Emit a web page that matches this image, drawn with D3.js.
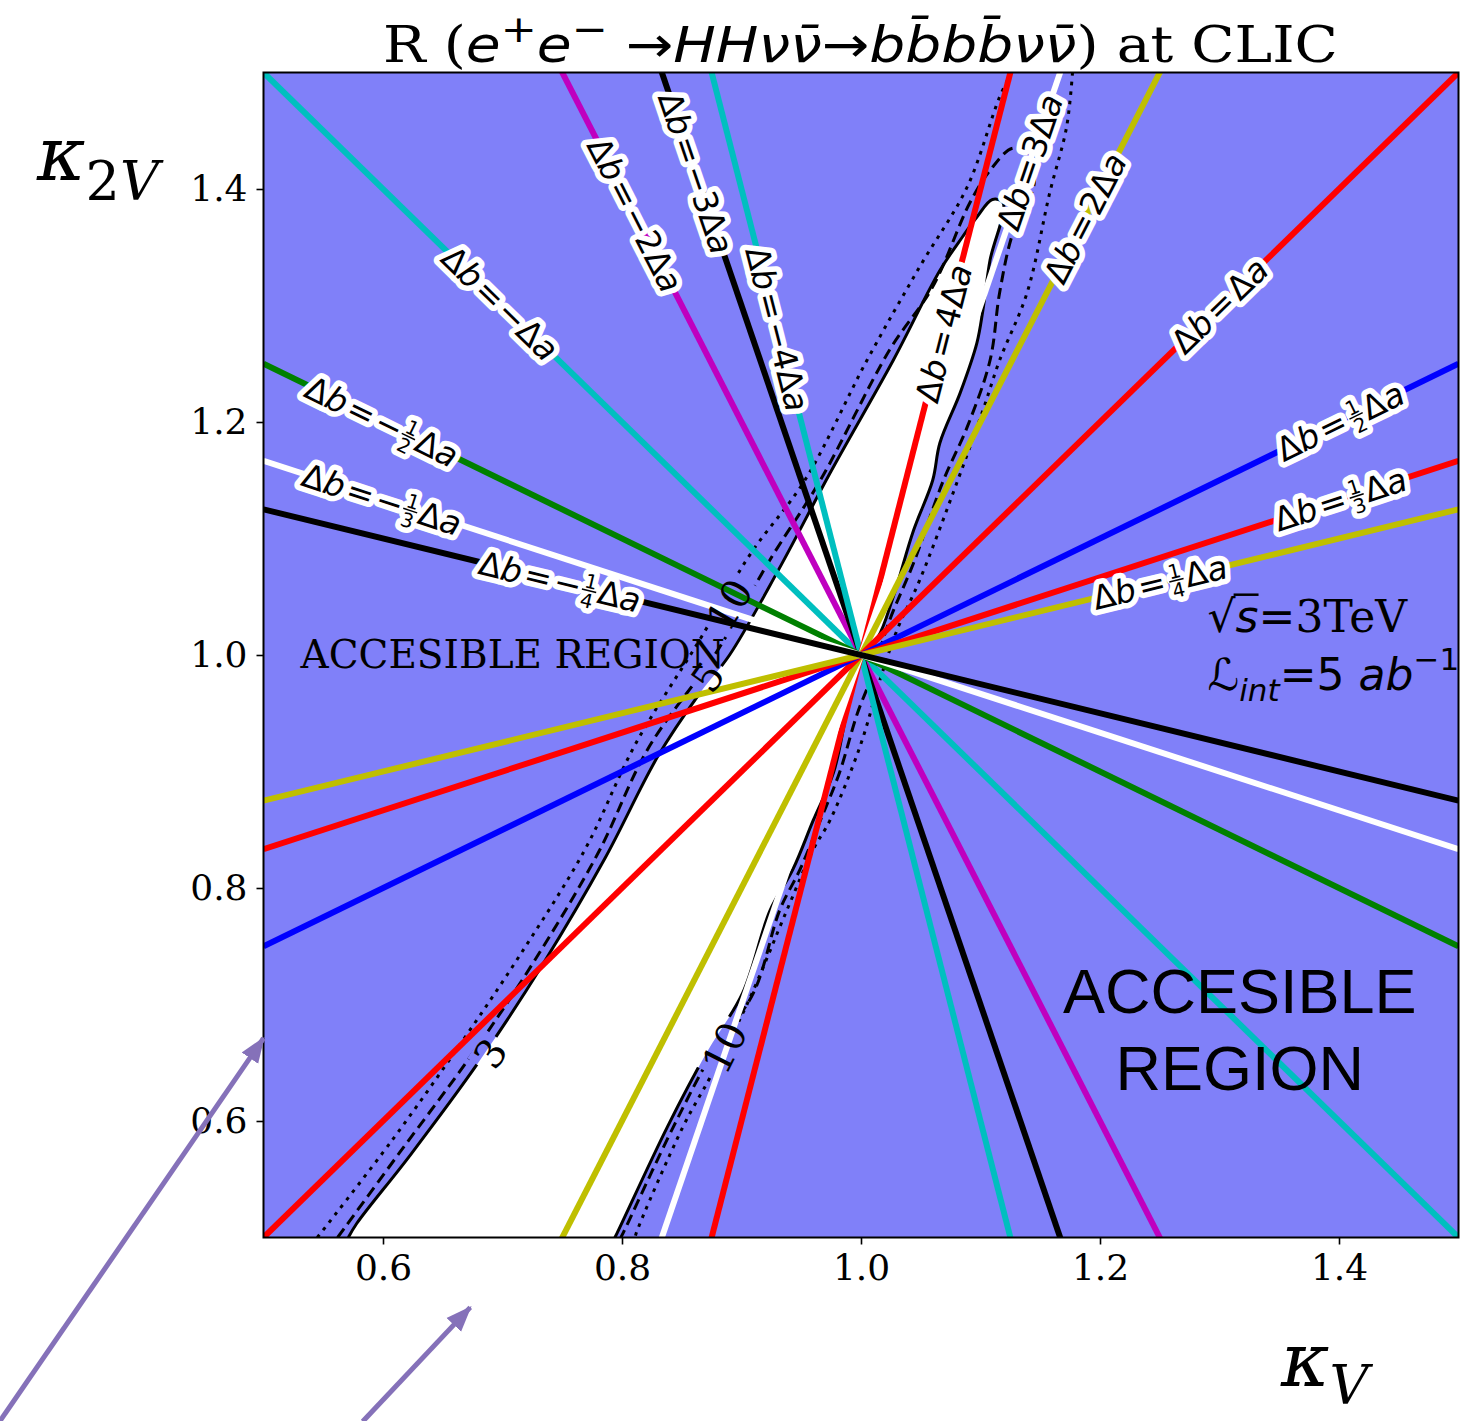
<!DOCTYPE html>
<html>
<head>
<meta charset="utf-8">
<script src="https://cdn.jsdelivr.net/npm/d3@7"></script>
<style>
  body { margin: 0; background: #fff; }
  svg { display: block; }
</style>
</head>
<body>
<div id="chart"></div>
<script>
/** Data. */
const X_TICKS = [0.6, 0.8, 1.0, 1.2, 1.4];
const Y_TICKS = [0.6, 0.8, 1.0, 1.2, 1.4];

// Lines through the SM point: Δb = k Δa
const SLOPES = [-1, -2, -3, -4, 4, 3, 2, 1, 1/2, 1/3, 1/4, -1/2, -1/3, -1/4];
const LABEL_PREFIX = ["−", "−2", "−3", "−4", "4", "3", "2", "", "", "", "", "−", "−", "−"];
const LABEL_DEN = [null, null, null, null, null, null, null, null, "2", "3", "4", "2", "3", "4"];
const LABEL_KV = [0.698, 0.811, 0.862, 0.930, 1.069, 1.141, 1.1875, 1.30, 1.401, 1.401, 1.25, 0.599, 0.599, 0.748];

// Contours of R (κV, κ2V)
const CONTOUR_3 = [
  [0.571, 0.500], [0.578, 0.512], [0.623, 0.571], [0.681, 0.652], [0.734, 0.735], [0.786, 0.826],
  [0.830, 0.913], [0.865, 0.967], [0.890, 1.000], [0.932, 1.075], [0.974, 1.156], [1.027, 1.253],
  [1.066, 1.330], [1.085, 1.359], [1.097, 1.376], [1.110, 1.391], [1.119, 1.388], [1.108, 1.339],
  [1.102, 1.296], [1.097, 1.268], [1.083, 1.225], [1.066, 1.182], [1.060, 1.150], [1.044, 1.107],
  [1.027, 1.050], [1.014, 1.015], [1.000, 1.000], [0.988, 0.950], [0.977, 0.899], [0.960, 0.858],
  [0.943, 0.816], [0.924, 0.781], [0.901, 0.710], [0.871, 0.659], [0.838, 0.595], [0.796, 0.504],
  [0.794, 0.500]
];
const CONTOUR_5 = [
  [0.562, 0.500], [0.614, 0.573], [0.675, 0.658], [0.727, 0.738], [0.780, 0.830], [0.822, 0.920],
  [0.880, 1.004], [0.924, 1.082], [0.966, 1.150], [1.024, 1.262], [1.060, 1.316], [1.091, 1.388],
  [1.108, 1.416], [1.127, 1.435], [1.141, 1.429], [1.145, 1.405], [1.127, 1.362], [1.116, 1.311],
  [1.108, 1.253], [1.089, 1.196], [1.069, 1.150], [1.044, 1.079], [1.024, 1.030], [1.008, 0.979],
  [0.997, 0.950], [0.982, 0.899], [0.966, 0.858], [0.949, 0.816], [0.932, 0.781], [0.910, 0.710],
  [0.876, 0.659], [0.843, 0.595], [0.801, 0.504], [0.799, 0.500]
];
const CONTOUR_10_LEFT = [
  [0.545, 0.500], [0.608, 0.584], [0.664, 0.665], [0.715, 0.743], [0.769, 0.833], [0.811, 0.923],
  [0.865, 1.013], [0.907, 1.086], [0.953, 1.150], [1.005, 1.253], [1.049, 1.333], [1.089, 1.402],
  [1.116, 1.479], [1.126, 1.500]
];
const CONTOUR_10_RIGHT = [
  [1.177, 1.500], [1.172, 1.453], [1.158, 1.397], [1.139, 1.311], [1.116, 1.253], [1.102, 1.210],
  [1.081, 1.150], [1.049, 1.064], [1.030, 1.021], [1.016, 0.979], [0.999, 0.921], [0.974, 0.858],
  [0.960, 0.833], [0.938, 0.781], [0.905, 0.701], [0.874, 0.638], [0.851, 0.595], [0.812, 0.504],
  [0.811, 0.500]
];
const CONTOUR_LABELS = ["3", "5", "10", "10"];
const CONTOUR_LABEL_AT = [[0.690, 0.658], [0.872, 0.981], [0.890, 1.043], [0.886, 0.663]];

// Annotation arrows, from -> to, in axis units
const ARROWS = [[[0.2795, 0.3425], [0.500, 0.671]], [[0.583, 0.342], [0.673, 0.440]]];

/** Styles and layout. */
const WIDTH = 1461;
const HEIGHT = 1421;
const PLOT = {left: 263.5, top: 72.5, right: 1458.5, bottom: 1237.5};
const BG_BLUE = "#8080f9";
const SLOPE_COLORS = ["#00bfbf", "#bf00bf", "#000000", "#00bfbf", "#ff0000", "#ffffff", "#bfbf00",
  "#ff0000", "#0000ff", "#ff0000", "#bfbf00", "#008000", "#ffffff", "#000000"];
const ARROW_COLOR = "#8571b9";
const SERIF = "'DejaVu Serif', serif";
const SANS = "'DejaVu Sans', sans-serif";

const x = d3.scaleLinear().domain([0.5, 1.5]).range([PLOT.left, PLOT.right]);
const y = d3.scaleLinear().domain([0.5, 1.5]).range([PLOT.bottom, PLOT.top]);

const curveLine = d3.line()
    .x(d => x(d[0]))
    .y(d => y(d[1]))
    .curve(d3.curveCatmullRom.alpha(0.5));
const straightLine = d3.line()
    .x(d => x(d[0]))
    .y(d => y(d[1]));

const svg = d3.select("#chart").append("svg")
    .attr("width", WIDTH)
    .attr("height", HEIGHT);
const defs = svg.append("defs");

defs.append("clipPath").attr("id", "plotclip")
  .append("rect")
    .attr("x", PLOT.left).attr("y", PLOT.top)
    .attr("width", PLOT.right - PLOT.left).attr("height", PLOT.bottom - PLOT.top);

defs.append("marker")
    .attr("id", "arrowhead")
    .attr("markerUnits", "userSpaceOnUse")
    .attr("viewBox", "0 0 26 22")
    .attr("markerWidth", 26).attr("markerHeight", 22)
    .attr("refX", 24).attr("refY", 11)
    .attr("orient", "auto")
  .append("path")
    .attr("d", "M0,1 L26,11 L0,21 Z")
    .attr("fill", ARROW_COLOR);

const plot = svg.append("g").attr("clip-path", "url(#plotclip)");

// background and the white (R < 3) region
plot.append("rect")
    .attr("x", PLOT.left).attr("y", PLOT.top)
    .attr("width", PLOT.right - PLOT.left).attr("height", PLOT.bottom - PLOT.top)
    .attr("fill", BG_BLUE);
plot.append("path")
    .attr("d", curveLine(CONTOUR_3) + "Z")
    .attr("fill", "#fff");

// mask that cuts the contour lines under their labels
const CL_FONT = 40;
const mask = defs.append("mask").attr("id", "cmask").attr("maskUnits", "userSpaceOnUse")
    .attr("x", 0).attr("y", 0).attr("width", WIDTH).attr("height", HEIGHT);
mask.append("rect").attr("width", WIDTH).attr("height", HEIGHT).attr("fill", "#fff");

function contourAngle(path, at) {
  // direction of the nearest segment of a contour, in screen degrees
  let best = 0, bd = Infinity;
  for (let i = 0; i < path.length - 1; i++) {
    const mx = (path[i][0] + path[i + 1][0]) / 2, my = (path[i][1] + path[i + 1][1]) / 2;
    const dd = (mx - at[0]) ** 2 + (my - at[1]) ** 2;
    if (dd < bd) { bd = dd; best = i; }
  }
  const a = path[best], b = path[best + 1];
  let ang = Math.atan2(y(b[1]) - y(a[1]), x(b[0]) - x(a[0])) * 180 / Math.PI;
  if (ang > 90) ang -= 180;
  if (ang < -90) ang += 180;
  return ang;
}
const LABEL_PATHS = [CONTOUR_3, CONTOUR_5, CONTOUR_10_LEFT, CONTOUR_10_RIGHT];
const clAngles = CONTOUR_LABELS.map((t, i) => contourAngle(LABEL_PATHS[i], CONTOUR_LABEL_AT[i]));
CONTOUR_LABELS.forEach((t, i) => {
  const w = t.length * CL_FONT * 0.64 + 8;
  mask.append("rect")
      .attr("x", -w / 2).attr("y", -CL_FONT * 0.42)
      .attr("width", w).attr("height", CL_FONT * 0.84)
      .attr("fill", "#000")
      .attr("transform", `translate(${x(CONTOUR_LABEL_AT[i][0])},${y(CONTOUR_LABEL_AT[i][1])}) rotate(${clAngles[i]})`);
});

const contours = plot.append("g")
    .attr("mask", "url(#cmask)")
    .attr("fill", "none")
    .attr("stroke", "#000")
    .attr("stroke-width", 3);
contours.append("path").attr("d", curveLine(CONTOUR_3));
contours.append("path").attr("d", curveLine(CONTOUR_5)).attr("stroke-dasharray", "11,6");
contours.append("path").attr("d", curveLine(CONTOUR_10_LEFT)).attr("stroke-dasharray", "3.5,6");
contours.append("path").attr("d", curveLine(CONTOUR_10_RIGHT)).attr("stroke-dasharray", "3.5,6");

// straight lines Δb = k Δa
plot.append("g").selectAll("path")
  .data(SLOPES)
  .join("path")
    .attr("d", k => straightLine([[0.5, 1 - 0.5 * k], [1.5, 1 + 0.5 * k]]))
    .attr("stroke", (k, i) => SLOPE_COLORS[i])
    .attr("stroke-width", 6)
    .attr("fill", "none");

// contour labels
CONTOUR_LABELS.forEach((t, i) => {
  plot.append("text")
      .attr("transform", `translate(${x(CONTOUR_LABEL_AT[i][0])},${y(CONTOUR_LABEL_AT[i][1])}) rotate(${clAngles[i]})`)
      .attr("text-anchor", "middle")
      .attr("dominant-baseline", "central")
      .style("font-family", SERIF)
      .style("font-size", CL_FONT + "px")
      .text(t);
});

// line labels with white halo
function slopeLabel(parent, prefix, den) {
  const fs = 33;
  const small = fs * 0.6;
  const base = 0.36 * fs;
  const layer = parent.append("g")
      .style("font-family", SANS)
      .attr("fill", "#000");
  let cx = 0;
  const put = (t, italic, gap) => {
    cx += gap || 0;
    const el = layer.append("text")
        .attr("x", cx).attr("y", base)
        .style("font-size", fs + "px")
        .style("font-style", italic ? "italic" : "normal")
        .text(t);
    cx += el.node().getComputedTextLength() + (gap || 0);
  };
  put("Δ"); put("b", true); put("=", false, 3);
  if (prefix) put(prefix, false, 0);
  if (den) {
    const w = small * 0.64 + 4;
    const barY = base - 0.3 * fs;
    layer.append("text").attr("x", cx + w / 2).attr("y", barY - 0.07 * fs)
        .attr("text-anchor", "middle").style("font-size", small + "px").text("1");
    layer.append("text").attr("x", cx + w / 2).attr("y", barY + 0.08 * fs + 0.44 * fs)
        .attr("text-anchor", "middle").style("font-size", small + "px").text(den);
    layer.append("line").attr("x1", cx + 1).attr("x2", cx + w - 1)
        .attr("y1", barY).attr("y2", barY)
        .attr("stroke", "#000").attr("stroke-width", 1.5);
    cx += w + 1;
  }
  put("Δ"); put("a", true);

  const halo = layer.node().cloneNode(true);
  parent.node().insertBefore(halo, layer.node());
  d3.select(halo)
      .attr("fill", "#fff")
      .attr("stroke", "#fff")
      .attr("stroke-width", 11)
      .attr("stroke-linejoin", "round");
  d3.select(halo).selectAll("line").attr("stroke", "#fff").attr("stroke-width", 12);

  const bb = layer.node().getBBox();
  const shift = `translate(${-(bb.x + bb.width / 2)},0)`;
  layer.attr("transform", shift);
  d3.select(halo).attr("transform", shift);
}

const labels = svg.append("g");
SLOPES.forEach((k, i) => {
  const kv = LABEL_KV[i];
  const ang = Math.atan2(y(1 + k * 0.1) - y(1), x(1.1) - x(1)) * 180 / Math.PI;
  const g = labels.append("g")
      .attr("transform", `translate(${x(kv)},${y(1 + k * (kv - 1))}) rotate(${ang})`);
  slopeLabel(g, LABEL_PREFIX[i], LABEL_DEN[i]);
});

// texts inside the axes
svg.append("text")
    .attr("x", x(0.531)).attr("y", y(0.989))
    .style("font-family", SERIF).style("font-size", "39px")
    .text("ACCESIBLE REGION");

const big = svg.append("g")
    .style("font-family", "'Liberation Sans', Arial, sans-serif")
    .style("font-size", "63px")
    .attr("text-anchor", "middle");
big.append("text").attr("x", x(1.317)).attr("y", y(0.693)).text("ACCESIBLE");
big.append("text").attr("x", x(1.317)).attr("y", y(0.627)).text("REGION");

const sqrtS = svg.append("text")
    .attr("x", x(1.29)).attr("y", y(1.020))
    .style("font-size", "44px");
sqrtS.append("tspan").style("font-family", SANS).text("√");
sqrtS.append("tspan").style("font-family", SANS).style("font-style", "italic").text("s");
sqrtS.append("tspan").style("font-family", SANS).text("=");
sqrtS.append("tspan").style("font-family", SERIF).text("3TeV");
{
  const n = sqrtS.node();
  const r = n.getExtentOfChar(0), s = n.getExtentOfChar(1);
  svg.append("line")
      .attr("x1", r.x + r.width - 2).attr("x2", s.x + s.width)
      .attr("y1", r.y + 4).attr("y2", r.y + 4)
      .attr("stroke", "#000").attr("stroke-width", 2.5);
}

const lumi = svg.append("text")
    .attr("x", x(1.29)).attr("y", y(0.970))
    .style("font-family", SANS)
    .style("font-size", "44px");
lumi.append("tspan").text("ℒ");
lumi.append("tspan").attr("dy", 11).style("font-size", "31px").style("font-style", "italic").text("int");
lumi.append("tspan").attr("dy", -11).text("=5 ");
lumi.append("tspan").style("font-style", "italic").text("ab");
lumi.append("tspan").attr("dy", -20).style("font-size", "31px").text("−1");

// frame and axes
svg.append("rect")
    .attr("x", PLOT.left).attr("y", PLOT.top)
    .attr("width", PLOT.right - PLOT.left).attr("height", PLOT.bottom - PLOT.top)
    .attr("fill", "none").attr("stroke", "#000").attr("stroke-width", 2);

const xAxis = d3.axisBottom(x).tickValues(X_TICKS).tickFormat(d3.format(".1f"))
    .tickSizeInner(7).tickSizeOuter(0).tickPadding(10);
const yAxis = d3.axisLeft(y).tickValues(Y_TICKS).tickFormat(d3.format(".1f"))
    .tickSizeInner(7).tickSizeOuter(0).tickPadding(9);

svg.append("g").attr("transform", `translate(0,${PLOT.bottom})`).call(xAxis)
    .call(g => g.select(".domain").remove());
svg.append("g").attr("transform", `translate(${PLOT.left},0)`).call(yAxis)
    .call(g => g.select(".domain").remove());
svg.selectAll(".tick line").attr("stroke-width", 1.6);
svg.selectAll(".tick text")
    .style("font-family", SERIF)
    .style("font-size", "36px")
    .attr("fill", "#000");

// axis labels
function kappaLabel(px, py, sub) {
  const t = svg.append("text").attr("x", px).attr("y", py).style("font-family", SERIF);
  t.append("tspan").style("font-size", "74px").style("font-style", "italic").text("κ");
  if (sub) t.append("tspan").attr("dy", 20).style("font-size", "54px").text(sub);
  t.append("tspan").attr("dy", sub ? 0 : 18).style("font-size", "54px").style("font-style", "italic").text("V");
}
kappaLabel(37, 180, "2");
kappaLabel(1281, 1386, "");

// title
const title = svg.append("text").attr("x", 0).attr("y", 0).style("font-size", "50px");
const tpart = (t, fam, it, dy, size) => title.append("tspan")
    .attr("dy", dy || 0)
    .style("font-family", fam)
    .style("font-style", it ? "italic" : "normal")
    .style("font-size", (size || 50) + "px")
    .text(t);
tpart("R (", SERIF);
tpart("e", SANS, true);
tpart("+", SANS, false, -20, 38);
tpart("e", SANS, true, 20);
tpart("−", SANS, false, -20, 38);
tpart(" →", SANS, false, 20);
tpart("HHνν\u0304", SANS, true);
tpart("→", SANS);
tpart("bb\u0304bb\u0304νν\u0304", SANS, true);
tpart(") at CLIC", SERIF);
{
  const bb = title.node().getBBox();
  const sx = 955 / bb.width;
  title.attr("transform", `translate(${383 - bb.x * sx},62) scale(${sx},1)`);
}

// arrows outside the axes
svg.append("g").selectAll("line")
  .data(ARROWS)
  .join("line")
    .attr("x1", d => x(d[0][0])).attr("y1", d => y(d[0][1]))
    .attr("x2", d => x(d[1][0])).attr("y2", d => y(d[1][1]))
    .attr("stroke", ARROW_COLOR)
    .attr("stroke-width", 5)
    .attr("marker-end", "url(#arrowhead)");
</script>
</body>
</html>
